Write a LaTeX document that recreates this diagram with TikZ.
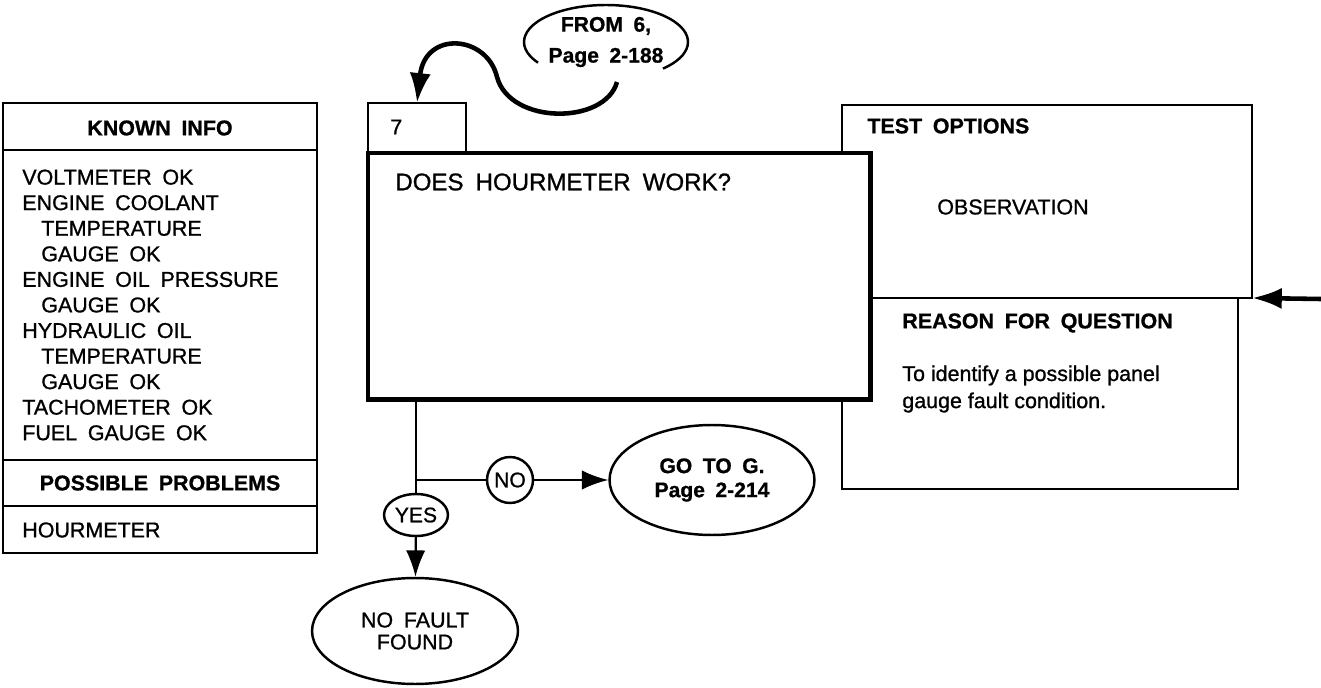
\documentclass[tikz,border=0pt]{standalone}
\usepackage{fontspec}
\setmainfont{Liberation Sans}[WordSpace=1.8, UprightFeatures={FakeBold=1.0}, BoldFeatures={FakeBold=0.8}]
\newfontfamily\plainfont{Liberation Sans}[UprightFeatures={FakeBold=1.0}]
\usetikzlibrary{shapes.geometric,arrows.meta}

\begin{document}
\begin{tikzpicture}[x=0.02cm,y=0.02cm]
		\useasboundingbox (0,0) rectangle (1321,687);
		\tikzset{BoxStyle/.style = {draw, rectangle, line width=1.1pt, inner sep=0pt, outer sep=0pt, anchor=north west},
		QuestionStyle/.style = {BoxStyle, line width=2.8pt, fill=white},
		TextStyle/.style = {inner sep=0pt, anchor=west, font=\fontsize{12.2}{14.55}\selectfont},
		HeadStyle/.style = {TextStyle, font=\fontsize{12.2}{14.55}\selectfont\bfseries},
		BubbleStyle/.style = {draw, ellipse, line width=1.4pt, inner sep=0pt, align=center, font=\fontsize{12}{13}\selectfont},
		FlowArrow/.style = {line width=1.2pt, -{Latex[length=15pt,width=11pt]}},
		BoldArrow/.style = {line width=2.6pt, -{Latex[length=17pt,width=12pt]}}}
		% left column
		\node[BoxStyle, minimum width=6.28cm, minimum height=9cm] (known) at (3,584) {};
		\draw[line width=1.1pt] (3,537) -- (317,537);
		\draw[line width=1.1pt] (3,227) -- (317,227);
		\draw[line width=1.1pt] (3,181) -- (317,181);
		\node[HeadStyle, anchor=center] (knownhead) at (160,559) {KNOWN INFO};
		\node[TextStyle, align=left] (knownlist) at (22,382) {VOLTMETER OK\\ENGINE COOLANT\\\hspace*{10.8pt}TEMPERATURE\\\hspace*{10.8pt}GAUGE OK\\ENGINE OIL PRESSURE\\\hspace*{10.8pt}GAUGE OK\\HYDRAULIC OIL\\\hspace*{10.8pt}TEMPERATURE\\\hspace*{10.8pt}GAUGE OK\\TACHOMETER OK\\FUEL GAUGE OK};
		\node[HeadStyle, anchor=center] (probhead) at (160,204) {POSSIBLE PROBLEMS};
		\node[TextStyle] (problist) at (22,157) {HOURMETER};
		% right column
		\node[BoxStyle, minimum width=8.2cm, minimum height=3.86cm] (options) at (842,582) {};
		\node[BoxStyle, minimum width=7.92cm, minimum height=3.82cm] (reason) at (842,389) {};
		\node[HeadStyle] (opthead) at (867,561) {TEST OPTIONS};
		\node[TextStyle] (observation) at (937,480) {OBSERVATION};
		\node[HeadStyle] (reasonhead) at (902,364) {REASON FOR QUESTION};
		\node[TextStyle, align=left, font=\fontsize{12.2}{15.4}\selectfont\plainfont] (reasontext) at (902,298) {To identify a possible panel\\gauge fault condition.};
		% step 7
		\node[BoxStyle, minimum width=1.96cm, minimum height=1cm] (tab) at (368,584) {};
		\node[QuestionStyle, minimum width=10.06cm, minimum height=4.94cm] (q7) at (368,534) {};
		\node[TextStyle] (num) at (390,560) {7};
		\node[TextStyle, font=\fontsize{13.7}{16}\selectfont] (question) at (395,505) {DOES HOURMETER WORK?};
		% entry bubble
		\node[BubbleStyle, draw=none, minimum width=3.28cm, minimum height=1.48cm, font=\fontsize{12}{17.6}\selectfont\bfseries] (from6) at (606,645) {FROM 6,\\Page 2-188};
		\draw[line width=1.4pt] ([shift={(214:1.64cm and 0.74cm)}]from6.center) arc[start angle=214, end angle=-46, x radius=1.64cm, y radius=0.74cm];
		\coordinate (tail) at (617,605);
		\draw[BoldArrow] (tail) .. controls (605,562) and (510,562) .. (497,610) .. controls (487,652) and (425,657) .. (tab.north);
		\coordinate (feed) at (1321,388);
		\draw[BoldArrow] (feed) -- (options.south east);
		% answers
		\coordinate (fork) at (416,207);
		\node[BubbleStyle, minimum width=1.28cm, minimum height=0.84cm] (yes) at (416,172) {YES};
		\node[BubbleStyle, circle, minimum size=0.92cm] (no) at (510,207) {NO};
		\node[BubbleStyle, minimum width=4.1cm, minimum height=2.2cm, font=\fontsize{12}{13.7}\selectfont\bfseries] (goto) at (712,207) {GO TO G.\\Page 2-214};
		\node[BubbleStyle, minimum width=4.12cm, minimum height=2.12cm, font=\fontsize{12.2}{12.5}\selectfont] (nofault) at (415,56) {NO FAULT\\FOUND};
		\draw[line width=1.2pt] (q7.south -| fork) -- (fork) -- (yes);
		\draw[FlowArrow] (yes) -- (nofault);
		\draw[line width=1.2pt] (fork) -- (no);
		\draw[FlowArrow] (no) -- (goto);
	\end{tikzpicture}
\end{document}
